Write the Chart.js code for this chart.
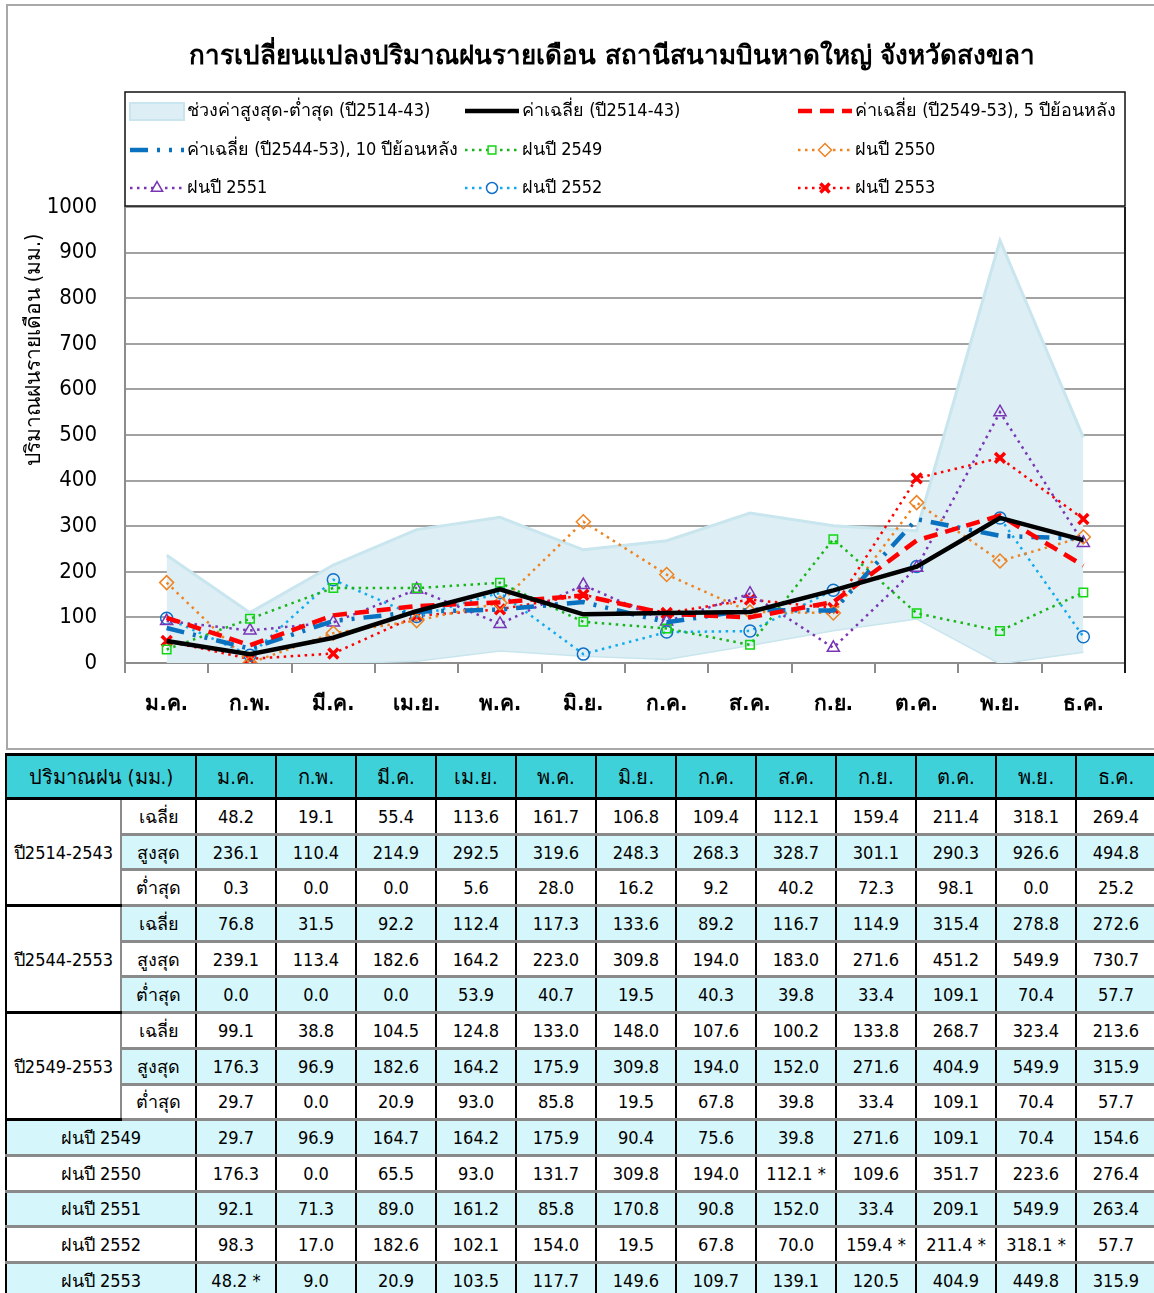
<!DOCTYPE html>
<html lang="th">
<head>
<meta charset="utf-8">
<title>ปริมาณฝนรายเดือน สถานีสนามบินหาดใหญ่</title>
<script src="https://cdn.jsdelivr.net/npm/chart.js@4.4.1/dist/chart.umd.min.js"></script>
<style>
  html, body { margin: 0; padding: 0; background: #fff; }
  body { width: 1154px; height: 1293px; position: relative; overflow: hidden;
         font-family: "DejaVu Sans Condensed", Tahoma, "DejaVu Sans", sans-serif; }
  #frame { position: absolute; left: 6px; top: 4px; width: 1200px; height: 742px;
           border: 2px solid #a8a8a8; }
  #rainChart { position: absolute; left: 0; top: 0; }
  #rainTable { position: absolute; left: 5px; top: 753px; width: 1150px;
               border-collapse: collapse; table-layout: fixed; font-size: 18px; color: #000; }
  #rainTable th, #rainTable td { text-align: center; padding: 0; white-space: nowrap;
               border-left: 2px solid #000; border-right: 2px solid #000;
               border-top: 3px solid #8a8a8a; border-bottom: 3px solid #8a8a8a; }
  #rainTable th { background: #3fd1da; font-weight: normal; font-size: 20px; height: 41px;
               border-top: 3px solid #000; border-bottom: 3px solid #000; }
  #rainTable tr.body td { height: 32.7px; }
  #rainTable tr.shade td { background: #d5f7fb; }
  #rainTable td.group { background: #fff !important; border-top: 3px solid #000;
               border-bottom: 3px solid #000; border-right: 2px solid #8a8a8a; }
  #rainTable td.sub { border-left: 2px solid #8a8a8a; }
  #rainTable tr.first td { border-top: 3px solid #000; }
  #rainTable tr.first td.num { border-top: 3px solid #8a8a8a; }
  #rainTable tr.top td.num { border-top: 3px solid #000; }
</style>
</head>
<body>
<div id="frame"></div>
<canvas id="rainChart" width="1154" height="750"></canvas>
<table id="rainTable">
  <colgroup id="cols"></colgroup>
  <thead><tr id="headRow"></tr></thead>
  <tbody id="tableBody"></tbody>
</table>

<script>
const FONT = '"DejaVu Sans Condensed", Tahoma, "DejaVu Sans", sans-serif';

// month labels
const months = ['ม.ค.', 'ก.พ.', 'มี.ค.', 'เม.ย.', 'พ.ค.', 'มิ.ย.', 'ก.ค.', 'ส.ค.', 'ก.ย.', 'ต.ค.', 'พ.ย.', 'ธ.ค.'];

// 30-year normals 2514-2543
const avg2514 = [48.2, 19.1, 55.4, 113.6, 161.7, 106.8, 109.4, 112.1, 159.4, 211.4, 318.1, 269.4];
const max2514 = [236.1, 110.4, 214.9, 292.5, 319.6, 248.3, 268.3, 328.7, 301.1, 290.3, 926.6, 494.8];
const min2514 = [0.3, 0.0, 0.0, 5.6, 28.0, 16.2, 9.2, 40.2, 72.3, 98.1, 0.0, 25.2];

// 10 years 2544-2553
const avg2544 = [76.8, 31.5, 92.2, 112.4, 117.3, 133.6, 89.2, 116.7, 114.9, 315.4, 278.8, 272.6];
const max2544 = [239.1, 113.4, 182.6, 164.2, 223.0, 309.8, 194.0, 183.0, 271.6, 451.2, 549.9, 730.7];
const min2544 = [0.0, 0.0, 0.0, 53.9, 40.7, 19.5, 40.3, 39.8, 33.4, 109.1, 70.4, 57.7];

// 5 years 2549-2553
const avg2549 = [99.1, 38.8, 104.5, 124.8, 133.0, 148.0, 107.6, 100.2, 133.8, 268.7, 323.4, 213.6];
const max2549 = [176.3, 96.9, 182.6, 164.2, 175.9, 309.8, 194.0, 152.0, 271.6, 404.9, 549.9, 315.9];
const min2549 = [29.7, 0.0, 20.9, 93.0, 85.8, 19.5, 67.8, 39.8, 33.4, 109.1, 70.4, 57.7];

// yearly rainfall
const rain2549 = [29.7, 96.9, 164.7, 164.2, 175.9, 90.4, 75.6, 39.8, 271.6, 109.1, 70.4, 154.6];
const rain2550 = [176.3, 0.0, 65.5, 93.0, 131.7, 309.8, 194.0, 112.1, 109.6, 351.7, 223.6, 276.4];
const rain2551 = [92.1, 71.3, 89.0, 161.2, 85.8, 170.8, 90.8, 152.0, 33.4, 209.1, 549.9, 263.4];
const rain2552 = [98.3, 17.0, 182.6, 102.1, 154.0, 19.5, 67.8, 70.0, 159.4, 211.4, 318.1, 57.7];
const rain2553 = [48.2, 9.0, 20.9, 103.5, 117.7, 149.6, 109.7, 139.1, 120.5, 404.9, 449.8, 315.9];

// months marked with * (filled in from averages)
const starred2550 = [7];
const starred2552 = [8, 9, 10];
const starred2553 = [0];

const yTicks = [0, 1000, 100];
const chartTitle = 'การเปลี่ยนแปลงปริมาณฝนรายเดือน สถานีสนามบินหาดใหญ่ จังหวัดสงขลา';
const yTitle = 'ปริมาณฝนรายเดือน (มม.)';

const dotted = [2.5, 4.5];

const datasets = [
  { label: 'ค่าเฉลี่ย (ปี2514-43)', data: avg2514, borderColor: '#000', borderWidth: 4.5, pointRadius: 0, order: 1 },
  { label: 'ค่าเฉลี่ย (ปี2549-53), 5 ปีย้อนหลัง', data: avg2549, borderColor: '#ff0000', borderWidth: 4.5,
    borderDash: [14, 8], pointRadius: 0, order: 2 },
  { label: 'ค่าเฉลี่ย (ปี2544-53), 10 ปีย้อนหลัง', data: avg2544, borderColor: '#0a70c0', borderWidth: 4.5,
    borderDash: [18, 9, 3, 9, 3, 9], pointRadius: 0, order: 3 },
  { label: 'ฝนปี 2549', data: rain2549, borderColor: '#19b419', borderWidth: 2.5, borderDash: dotted,
    pointStyle: 'rect', pointRadius: 6, pointBorderColor: '#12d812', pointBorderWidth: 1.5,
    pointBackgroundColor: 'rgba(0,0,0,0)', order: 4 },
  { label: 'ฝนปี 2550', data: rain2550, borderColor: '#ef8322', borderWidth: 2.5, borderDash: dotted,
    pointStyle: 'rectRot', pointRadius: 7, pointBorderColor: '#ef8322', pointBorderWidth: 1.5,
    pointBackgroundColor: 'rgba(0,0,0,0)', order: 5 },
  { label: 'ฝนปี 2551', data: rain2551, borderColor: '#7a35b5', borderWidth: 2.5, borderDash: dotted,
    pointStyle: 'triangle', pointRadius: 7, pointBorderColor: '#7a35b5', pointBorderWidth: 1.5,
    pointBackgroundColor: 'rgba(0,0,0,0)', order: 6 },
  { label: 'ฝนปี 2552', data: rain2552, borderColor: '#12aaee', borderWidth: 2.5, borderDash: dotted,
    pointStyle: 'circle', pointRadius: 6, pointBorderColor: '#1070c8', pointBorderWidth: 1.5,
    pointBackgroundColor: 'rgba(0,0,0,0)', order: 7 },
  { label: 'ฝนปี 2553', data: rain2553, borderColor: '#ff0000', borderWidth: 2.5, borderDash: dotted,
    pointStyle: 'crossRot', pointRadius: 7, pointBorderColor: '#ff0000', pointBorderWidth: 3.5,
    pointBackgroundColor: 'rgba(0,0,0,0)', order: 8 },
  { label: 'ช่วงค่าสูงสุด-ต่ำสุด (ปี2514-43)', data: max2514, borderColor: '#c9e5ee', borderWidth: 3,
    backgroundColor: '#ddeff5', fill: '+1', pointRadius: 0, order: 20 },
  { label: 'ต่ำสุด', data: min2514, borderColor: '#c9e5ee', borderWidth: 3, fill: false, pointRadius: 0, order: 21 }
];

// legend grid, row by row (dataset indices)
const legendOrder = [8, 0, 1, 2, 3, 4, 5, 6, 7];

function drawSample(ctx, ds, x, y, w) {
  ctx.save();
  if (ds.fill) {
    ctx.fillStyle = ds.backgroundColor;
    ctx.strokeStyle = ds.borderColor;
    ctx.lineWidth = 2;
    ctx.fillRect(x, y - 8, w, 17);
    ctx.strokeRect(x, y - 8, w, 17);
  } else {
    ctx.strokeStyle = ds.borderColor;
    ctx.lineWidth = ds.borderWidth;
    ctx.setLineDash(ds.borderDash || []);
    ctx.beginPath();
    ctx.moveTo(x, y);
    ctx.lineTo(x + w, y);
    ctx.stroke();
    if (ds.pointRadius > 0 && Chart.helpers && Chart.helpers.drawPoint) {
      ctx.setLineDash([]);
      ctx.strokeStyle = ds.pointBorderColor;
      ctx.fillStyle = '#fff';
      ctx.lineWidth = ds.pointBorderWidth;
      Chart.helpers.drawPoint(ctx, {
        pointStyle: ds.pointStyle, radius: ds.pointRadius - 0.5,
        borderWidth: ds.pointBorderWidth, rotation: 0
      }, x + w / 2, y);
    }
  }
  ctx.restore();
}

const decorations = {
  id: 'decorations',
  afterDraw(chart) {
    const { ctx, chartArea: a } = chart;
    ctx.save();

    // plot right border
    ctx.strokeStyle = '#1a1a1a';
    ctx.lineWidth = 2;
    ctx.beginPath();
    ctx.moveTo(a.right, a.top);
    ctx.lineTo(a.right, a.bottom + 10);
    ctx.stroke();

    // title
    ctx.fillStyle = '#000';
    ctx.font = 'bold 26px ' + FONT;
    ctx.textAlign = 'center';
    ctx.textBaseline = 'middle';
    ctx.fillText(chartTitle, 612, 57);

    // y axis title
    ctx.save();
    ctx.translate(35, 350);
    ctx.rotate(-Math.PI / 2);
    ctx.font = '21px ' + FONT;
    ctx.fillText(yTitle, 0, 0);
    ctx.restore();

    // legend box
    const top = 92, h = 114;
    ctx.fillStyle = '#fff';
    ctx.fillRect(a.left, top, a.width, h);
    ctx.strokeStyle = '#111';
    ctx.lineWidth = 1.5;
    ctx.strokeRect(a.left, top, a.width, h);

    const colX = [130, 465, 798];
    const rowY = [111, 150, 188];
    ctx.font = '18px ' + FONT;
    ctx.textAlign = 'left';
    legendOrder.forEach((di, i) => {
      const ds = chart.data.datasets[di];
      const x = colX[i % 3], y = rowY[Math.floor(i / 3)];
      drawSample(ctx, ds, x, y, 54);
      ctx.fillStyle = '#000';
      ctx.fillText(ds.label, x + 57, y);
    });
    ctx.restore();
  }
};

new Chart(document.getElementById('rainChart'), {
  type: 'line',
  data: { labels: months, datasets: datasets },
  options: {
    responsive: false,
    animation: false,
    devicePixelRatio: 1,
    layout: { padding: { top: 207, right: 29, left: 0, bottom: 0 } },
    elements: { line: { tension: 0 } },
    plugins: { legend: { display: false }, title: { display: false }, tooltip: { enabled: false } },
    scales: {
      x: {
        offset: true,
        grid: { offset: true, drawOnChartArea: false, drawTicks: true, tickLength: 10, color: '#8c8c8c', lineWidth: 2 },
        border: { color: '#8c8c8c', width: 2 },
        ticks: { font: { family: FONT, size: 21, weight: 'bold' }, color: '#000', padding: 19, maxRotation: 0, autoSkip: false },
        afterFit: s => { s.height = 87; }
      },
      y: {
        min: yTicks[0], max: yTicks[1],
        ticks: { stepSize: yTicks[2], font: { family: FONT, size: 22 }, color: '#000', padding: 28,
                 callback: v => String(v) },
        grid: { color: '#a2a2a2', lineWidth: 2, drawTicks: false },
        border: { color: '#8c8c8c', width: 2 },
        afterFit: s => { s.width = 125; }
      }
    }
  },
  plugins: [decorations]
});

// data table under the chart
const fmt = (v, starred, i) => v.toFixed(1) + (starred && starred.includes(i) ? ' *' : '');

const cols = document.getElementById('cols');
[115, 75].concat(months.map(() => 80)).forEach(w => {
  const c = document.createElement('col');
  c.style.width = w + 'px';
  cols.appendChild(c);
});

const headRow = document.getElementById('headRow');
headRow.innerHTML = '<th colspan="2">ปริมาณฝน (มม.)</th>' + months.map(m => '<th>' + m + '</th>').join('');

const groups = [
  { name: 'ปี2514-2543', rows: [['เฉลี่ย', avg2514], ['สูงสุด', max2514], ['ต่ำสุด', min2514]] },
  { name: 'ปี2544-2553', rows: [['เฉลี่ย', avg2544], ['สูงสุด', max2544], ['ต่ำสุด', min2544]] },
  { name: 'ปี2549-2553', rows: [['เฉลี่ย', avg2549], ['สูงสุด', max2549], ['ต่ำสุด', min2549]] }
];
const years = [
  ['ฝนปี 2549', rain2549, null],
  ['ฝนปี 2550', rain2550, starred2550],
  ['ฝนปี 2551', rain2551, null],
  ['ฝนปี 2552', rain2552, starred2552],
  ['ฝนปี 2553', rain2553, starred2553]
];

const body = document.getElementById('tableBody');
let rowIndex = 0;
groups.forEach((g, gi) => {
  g.rows.forEach((r, ri) => {
    const tr = document.createElement('tr');
    tr.className = 'body' + (rowIndex % 2 ? ' shade' : '') + (ri === 0 ? ' first' : '') + (rowIndex === 0 ? ' top' : '');
    let html = '';
    if (ri === 0) html += '<td class="group" rowspan="3">' + g.name + '</td>';
    html += '<td class="sub">' + r[0] + '</td>';
    html += r[1].map(v => '<td class="num">' + fmt(v) + '</td>').join('');
    tr.innerHTML = html;
    body.appendChild(tr);
    rowIndex++;
  });
});
years.forEach((y, yi) => {
  const tr = document.createElement('tr');
  tr.className = 'body' + (rowIndex % 2 ? ' shade' : '') + (yi === 0 ? ' first' : '');
  tr.innerHTML = '<td colspan="2">' + y[0] + '</td>' +
    y[1].map((v, i) => '<td class="num">' + fmt(v, y[2], i) + '</td>').join('');
  body.appendChild(tr);
  rowIndex++;
});
</script>
</body>
</html>
